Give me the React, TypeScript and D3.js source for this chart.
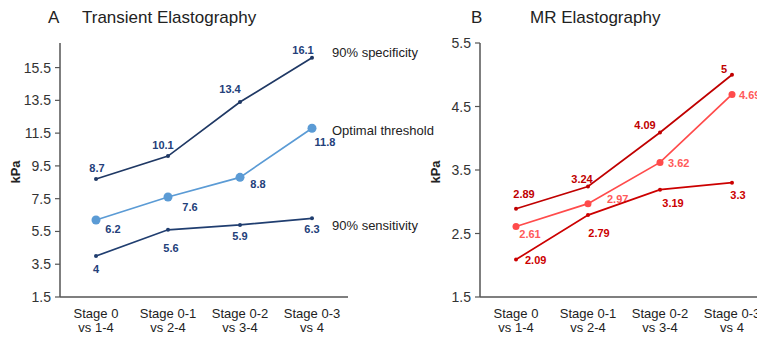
import React from 'react';
import * as d3 from 'd3';

// categories (two-line labels)
const categories = ['Stage 0|vs 1-4', 'Stage 0-1|vs 2-4', 'Stage 0-2|vs 3-4', 'Stage 0-3|vs 4'];

// A: transient elastography
const teSpecificity = [8.7, 10.1, 13.4, 16.1];
const teOptimal = [6.2, 7.6, 8.8, 11.8];
const teSensitivity = [4, 5.6, 5.9, 6.3];
const teTicks = [1.5, 3.5, 5.5, 7.5, 9.5, 11.5, 13.5, 15.5];

// B: MR elastography
const mrSpecificity = [2.89, 3.24, 4.09, 5];
const mrOptimal = [2.61, 2.97, 3.62, 4.69];
const mrSensitivity = [2.09, 2.79, 3.19, 3.3];
const mrTicks = [1.5, 2.5, 3.5, 4.5, 5.5];

const seriesNames = ['90% specificity', 'Optimal threshold', '90% sensitivity'];

const FONT = '"Liberation Sans", Arial, sans-serif';

interface Series {
  values: number[];
  color: string;
  labelColor: string;
  r: number;
  // label offsets [dx, dy, anchor]
  offsets: [number, number, string][];
}

interface PanelProps {
  left: number;
  letter: string;
  letterX: number;
  title: string;
  titleX: number;
  domain: [number, number];
  ticks: number[];
  series: Series[];
}

const top = 43;
const bottom = 297;
const plotW = 288;

function Panel({ left, letter, letterX, title, titleX, domain, ticks, series }: PanelProps) {
  const x = d3.scaleBand().domain(categories).range([left, left + plotW]);
  const y = d3.scaleLinear().domain(domain).range([bottom, top]);
  const cx = (c: string) => (x(c) as number) + x.bandwidth() / 2;
  const line = d3
    .line<number>()
    .x((_, i) => cx(categories[i]))
    .y((d) => y(d));
  const axisColor = '#555';
  return (
    <g>
      <text x={letterX} y={23} fontSize={17} fontFamily={FONT} fill="#222">
        {letter}
      </text>
      <text x={titleX} y={23} fontSize={17} fontFamily={FONT} fill="#222">
        {title}
      </text>
      <text
        transform={`translate(${left - 40},${172}) rotate(-90)`}
        textAnchor="middle"
        fontSize={13}
        fontWeight="bold"
        fontFamily={FONT}
        fill="#222"
      >
        kPa
      </text>
      <line x1={left} x2={left} y1={top} y2={bottom} stroke={axisColor} strokeWidth={1.5} />
      <line x1={left} x2={left + plotW} y1={bottom} y2={bottom} stroke={axisColor} strokeWidth={1.5} />
      {ticks.map((t) => (
        <g key={t}>
          <line x1={left - 5} x2={left} y1={y(t)} y2={y(t)} stroke={axisColor} strokeWidth={1.2} />
          <text
            x={left - 9}
            y={y(t) + 5}
            textAnchor="end"
            fontSize={14}
            fontFamily={FONT}
            fill="#333"
          >
            {t.toFixed(1)}
          </text>
        </g>
      ))}
      {categories.map((c) => (
        <text key={c} textAnchor="middle" fontSize={13} fontFamily={FONT} fill="#222">
          {c.split('|').map((s, i) => (
            <tspan key={i} x={cx(c)} y={318 + i * 14}>
              {s}
            </tspan>
          ))}
        </text>
      ))}
      {series.map((s, si) => (
        <g key={si}>
          <path d={line(s.values) as string} fill="none" stroke={s.color} strokeWidth={1.7} />
          {s.values.map((v, i) => (
            <circle key={i} cx={cx(categories[i])} cy={y(v)} r={s.r} fill={s.color} />
          ))}
          {s.values.map((v, i) => (
            <text
              key={`l${i}`}
              x={cx(categories[i]) + s.offsets[i][0]}
              y={y(v) + s.offsets[i][1] + 4}
              textAnchor={s.offsets[i][2]}
              fontSize={11}
              fontWeight="bold"
              fontFamily={FONT}
              fill={s.labelColor}
            >
              {String(v)}
            </text>
          ))}
        </g>
      ))}
    </g>
  );
}

export default function App() {
  const teSeries: Series[] = [
    {
      values: teSpecificity,
      color: '#1f3864',
      labelColor: '#23407a',
      r: 2,
      offsets: [
        [1, -11, 'middle'],
        [-5, -11, 'middle'],
        [-10, -13, 'middle'],
        [-9, -8, 'middle'],
      ],
    },
    {
      values: teOptimal,
      color: '#5b9bd5',
      labelColor: '#23407a',
      r: 4.5,
      offsets: [
        [17, 9, 'middle'],
        [22, 10, 'middle'],
        [18, 7, 'middle'],
        [13, 14, 'middle'],
      ],
    },
    {
      values: teSensitivity,
      color: '#203e70',
      labelColor: '#23407a',
      r: 2,
      offsets: [
        [0, 13, 'middle'],
        [3, 18, 'middle'],
        [0, 11, 'middle'],
        [0, 11, 'middle'],
      ],
    },
  ];

  const mrSeries: Series[] = [
    {
      values: mrSpecificity,
      color: '#c00000',
      labelColor: '#c00000',
      r: 2,
      offsets: [
        [8, -15, 'middle'],
        [-6, -8, 'middle'],
        [-15, -8, 'middle'],
        [-8, -6, 'middle'],
      ],
    },
    {
      values: mrOptimal,
      color: '#ff4b4b',
      labelColor: '#ff5a5a',
      r: 3.5,
      offsets: [
        [14, 7, 'middle'],
        [19, -5, 'start'],
        [8, 1, 'start'],
        [7, 1, 'start'],
      ],
    },
    {
      values: mrSensitivity,
      color: '#cc0000',
      labelColor: '#cc0000',
      r: 2,
      offsets: [
        [9, 0, 'start'],
        [11, 18, 'middle'],
        [13, 13, 'middle'],
        [6, 12, 'middle'],
      ],
    },
  ];

  const nameY = [52, 130, 225];

  return (
    <svg
      width={757}
      height={341}
      style={{ position: 'absolute', left: 0, top: 0, background: '#fff' }}
    >
      <rect width={757} height={341} fill="#fff" />
      <Panel
        left={60}
        letter="A"
        letterX={48}
        title="Transient Elastography"
        titleX={82}
        domain={[1.5, 17]}
        ticks={teTicks}
        series={teSeries}
      />
      {seriesNames.map((n, i) => (
        <text key={n} x={332} y={nameY[i] + 4.5} fontSize={13} fontFamily={FONT} fill="#222">
          {n}
        </text>
      ))}
      <Panel
        left={480}
        letter="B"
        letterX={471}
        title="MR Elastography"
        titleX={530}
        domain={[1.5, 5.5]}
        ticks={mrTicks}
        series={mrSeries}
      />
    </svg>
  );
}
